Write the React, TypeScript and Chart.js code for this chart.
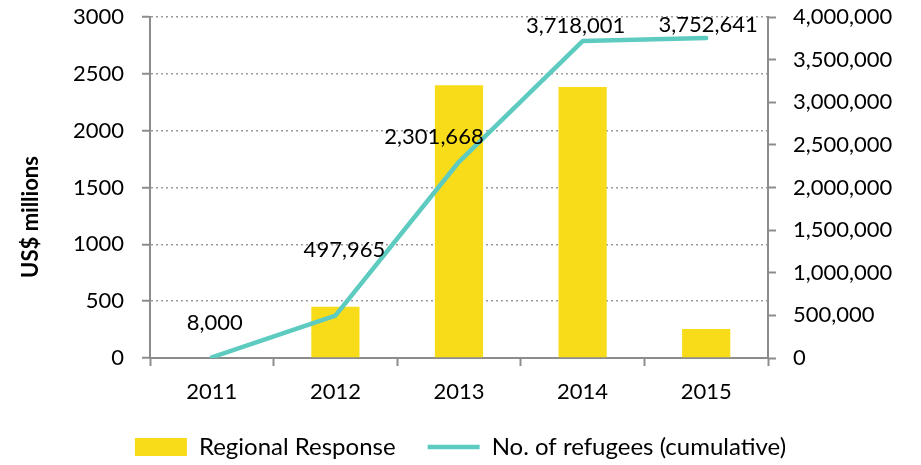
import { useEffect, useRef } from "react";
import { Chart, registerables } from "chart.js";

Chart.register(...registerables);

const years = ["2011", "2012", "2013", "2014", "2015"];
const regionalResponse = [0, 450, 2400, 2385, 255];
const refugeesCumulative = [8000, 497965, 2301668, 3718001, 3752641];
const leftAxisTitle = "US$ millions";
const barLabel = "Regional Response";
const lineLabel = "No. of refugees (cumulative)";

// label placement relative to each line point (style only)
const LABEL_OFFSETS: [number, number][] = [
  [3, -34],
  [9, -66],
  [-25, -25],
  [-7, -15],
  [2, -13],
];

const FONT = "Lato, 'DejaVu Sans', sans-serif";
const AXIS_GRAY = "#8c8c8c";
const GRID_GRAY = "#9a9a9a";
const YELLOW = "#F8DC1A";
const TEAL = "#5ECBC1";

const fmt = (v: number) => Math.round(v).toLocaleString("en-US");

const lineLabelsPlugin = {
  id: "lineLabels",
  afterDatasetsDraw(chart: any) {
    const meta = chart.getDatasetMeta(1);
    const ctx = chart.ctx;
    ctx.save();
    ctx.font = `22px ${FONT}`;
    ctx.fillStyle = "#000";
    ctx.textAlign = "center";
    ctx.textBaseline = "middle";
    meta.data.forEach((pt: any, i: number) => {
      const [dx, dy] = LABEL_OFFSETS[i] || [0, -20];
      ctx.fillText(fmt(refugeesCumulative[i]), pt.x + dx, pt.y + dy);
    });
    ctx.restore();
  },
};

const leftTitlePlugin = {
  id: "leftTitle",
  afterDraw(chart: any) {
    const ctx = chart.ctx;
    ctx.save();
    ctx.translate(31, 217);
    ctx.rotate(-Math.PI / 2);
    ctx.font = `bold 22px ${FONT}`;
    ctx.fillStyle = "#000";
    ctx.textAlign = "center";
    ctx.textBaseline = "middle";
    ctx.fillText(leftAxisTitle, 0, 0);
    ctx.restore();
  },
};

export default function App() {
  const ref = useRef<HTMLCanvasElement | null>(null);

  useEffect(() => {
    if (!ref.current) return;
    const chart = new Chart(ref.current, {
      type: "bar",
      data: {
        labels: years,
        datasets: [
          {
            type: "bar",
            label: barLabel,
            data: regionalResponse,
            backgroundColor: YELLOW,
            borderWidth: 0,
            barPercentage: 0.39,
            categoryPercentage: 1,
            yAxisID: "y",
            order: 1,
            pointStyle: "rect",
          } as any,
          {
            type: "line",
            label: lineLabel,
            data: refugeesCumulative,
            borderColor: TEAL,
            backgroundColor: TEAL,
            borderWidth: 4.5,
            borderCapStyle: "round",
            borderJoinStyle: "round",
            pointRadius: 0,
            pointHoverRadius: 0,
            tension: 0,
            yAxisID: "y1",
            order: 0,
            pointStyle: "line",
          } as any,
        ],
      },
      options: {
        animation: false,
        responsive: false,
        maintainAspectRatio: false,
        layout: { padding: { top: 17, left: 0, right: 0, bottom: -4 } },
        plugins: {
          tooltip: { enabled: false },
          legend: {
            position: "bottom",
            labels: {
              usePointStyle: true,
              pointStyleWidth: 52,
              boxHeight: 18,
              padding: 32,
              color: "#000",
              font: { family: FONT, size: 24 },
              sort: (a: any, b: any) => a.datasetIndex - b.datasetIndex,
            },
          },
        },
        scales: {
          x: {
            offset: true,
            grid: {
              offset: true,
              drawOnChartArea: false,
              tickLength: 8,
              tickColor: AXIS_GRAY,
              tickWidth: 2,
            },
            border: { display: true, color: AXIS_GRAY, width: 2 },
            ticks: { color: "#000", font: { family: FONT, size: 22 }, padding: 13 },
            afterFit: (s: any) => {
              s.height = 45;
            },
          },
          y: {
            position: "left",
            min: 0,
            max: 3000,
            ticks: {
              stepSize: 500,
              color: "#000",
              font: { family: FONT, size: 22 },
              padding: 18,
              callback: (v: any) => String(v),
            },
            grid: {
              color: GRID_GRAY,
              lineWidth: 1.5,
              tickLength: 8,
              tickColor: AXIS_GRAY,
              tickWidth: 2,
              tickBorderDash: [],
            },
            border: { display: true, color: AXIS_GRAY, width: 2, dash: [2, 3] },
            afterFit: (s: any) => {
              s.width = 150;
              s.paddingTop = 10;
              s.paddingBottom = 10;
            },
          },
          y1: {
            position: "right",
            min: 0,
            max: 4000000,
            ticks: {
              stepSize: 500000,
              color: "#000",
              font: { family: FONT, size: 22 },
              padding: 17,
              callback: (v: any) => fmt(Number(v)),
            },
            grid: {
              drawOnChartArea: false,
              tickLength: 8,
              tickColor: AXIS_GRAY,
              tickWidth: 2,
            },
            border: { display: true, color: AXIS_GRAY, width: 2 },
            afterFit: (s: any) => {
              s.width = 153;
              s.paddingTop = 10;
              s.paddingBottom = 10;
            },
          },
        },
      },
      plugins: [lineLabelsPlugin, leftTitlePlugin],
    });
    return () => chart.destroy();
  }, []);

  return (
    <div style={{ position: "absolute", left: 0, top: 0, width: 921, height: 465, background: "#fff" }}>
      <canvas ref={ref} width={921} height={465} style={{ width: 921, height: 465, display: "block" }} />
    </div>
  );
}
